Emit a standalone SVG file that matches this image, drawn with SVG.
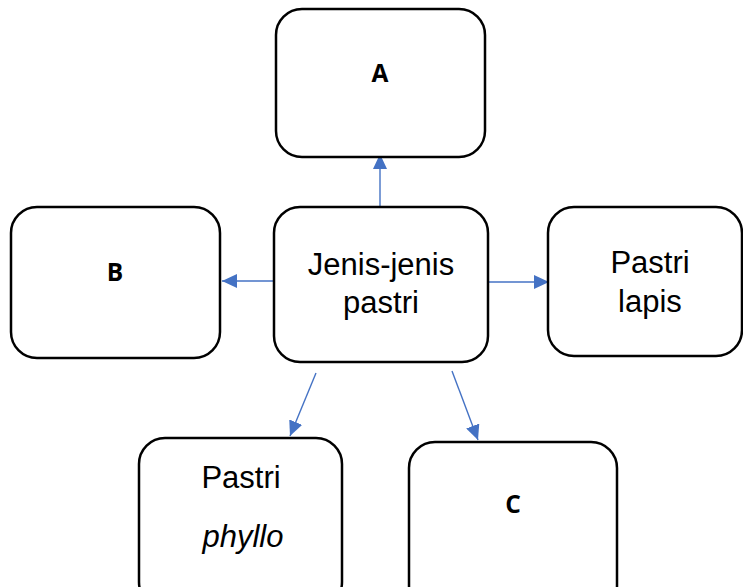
<svg xmlns="http://www.w3.org/2000/svg" width="743" height="587" viewBox="0 0 743 587">
<style>
.box{fill:#fff;stroke:#000;stroke-width:2.5}
.reg{font-family:"Liberation Sans",Arial,sans-serif;font-size:31px;fill:#000;text-anchor:middle}
.bold{font-family:"Open Sans","Liberation Sans",sans-serif;font-weight:bold;font-size:24.5px;fill:#000;text-anchor:middle}
.conn{stroke:#4472C4;stroke-width:1.4;fill:none}
</style>
<defs>
<marker id="ah" markerUnits="userSpaceOnUse" markerWidth="16" markerHeight="14" refX="15" refY="7" orient="auto">
<path d="M0,0 L15,7 L0,14 Z" fill="#4472C4"/>
</marker>
</defs>
<rect width="743" height="587" fill="#fff"/>
<g id="connectors">
<line class="conn" x1="380" y1="206" x2="380" y2="154" marker-end="url(#ah)"/>
<line class="conn" x1="273" y1="281" x2="222" y2="281" marker-end="url(#ah)"/>
<line class="conn" x1="489" y1="282" x2="549" y2="282" marker-end="url(#ah)"/>
<line class="conn" x1="316" y1="373" x2="290" y2="436" marker-end="url(#ah)"/>
<line class="conn" x1="452" y1="371" x2="478" y2="440" marker-end="url(#ah)"/>
</g>
<g id="nodeA">
<rect class="box" x="276" y="9" width="209" height="148" rx="26"/>
<text class="bold" x="380" y="82">A</text>
</g>
<g id="nodeB">
<rect class="box" x="11" y="207" width="209" height="151" rx="26"/>
<text class="bold" x="115" y="281">B</text>
</g>
<g id="nodeCenter">
<rect class="box" x="274" y="207" width="214" height="155" rx="26"/>
<text class="reg" x="381" y="275">Jenis-jenis</text>
<text class="reg" x="381" y="313">pastri</text>
</g>
<g id="nodeLapis">
<rect class="box" x="548" y="207" width="194" height="149" rx="26"/>
<text class="reg" x="650" y="273">Pastri</text>
<text class="reg" x="650" y="312">lapis</text>
</g>
<g id="nodePhyllo">
<rect class="box" x="139" y="438" width="203" height="170" rx="26"/>
<text class="reg" x="241" y="488">Pastri</text>
<text class="reg" x="243" y="547" font-style="italic">phyllo</text>
</g>
<g id="nodeC">
<rect class="box" x="409" y="442" width="208" height="170" rx="26"/>
<text class="bold" x="513" y="513">C</text>
</g>
</svg>
